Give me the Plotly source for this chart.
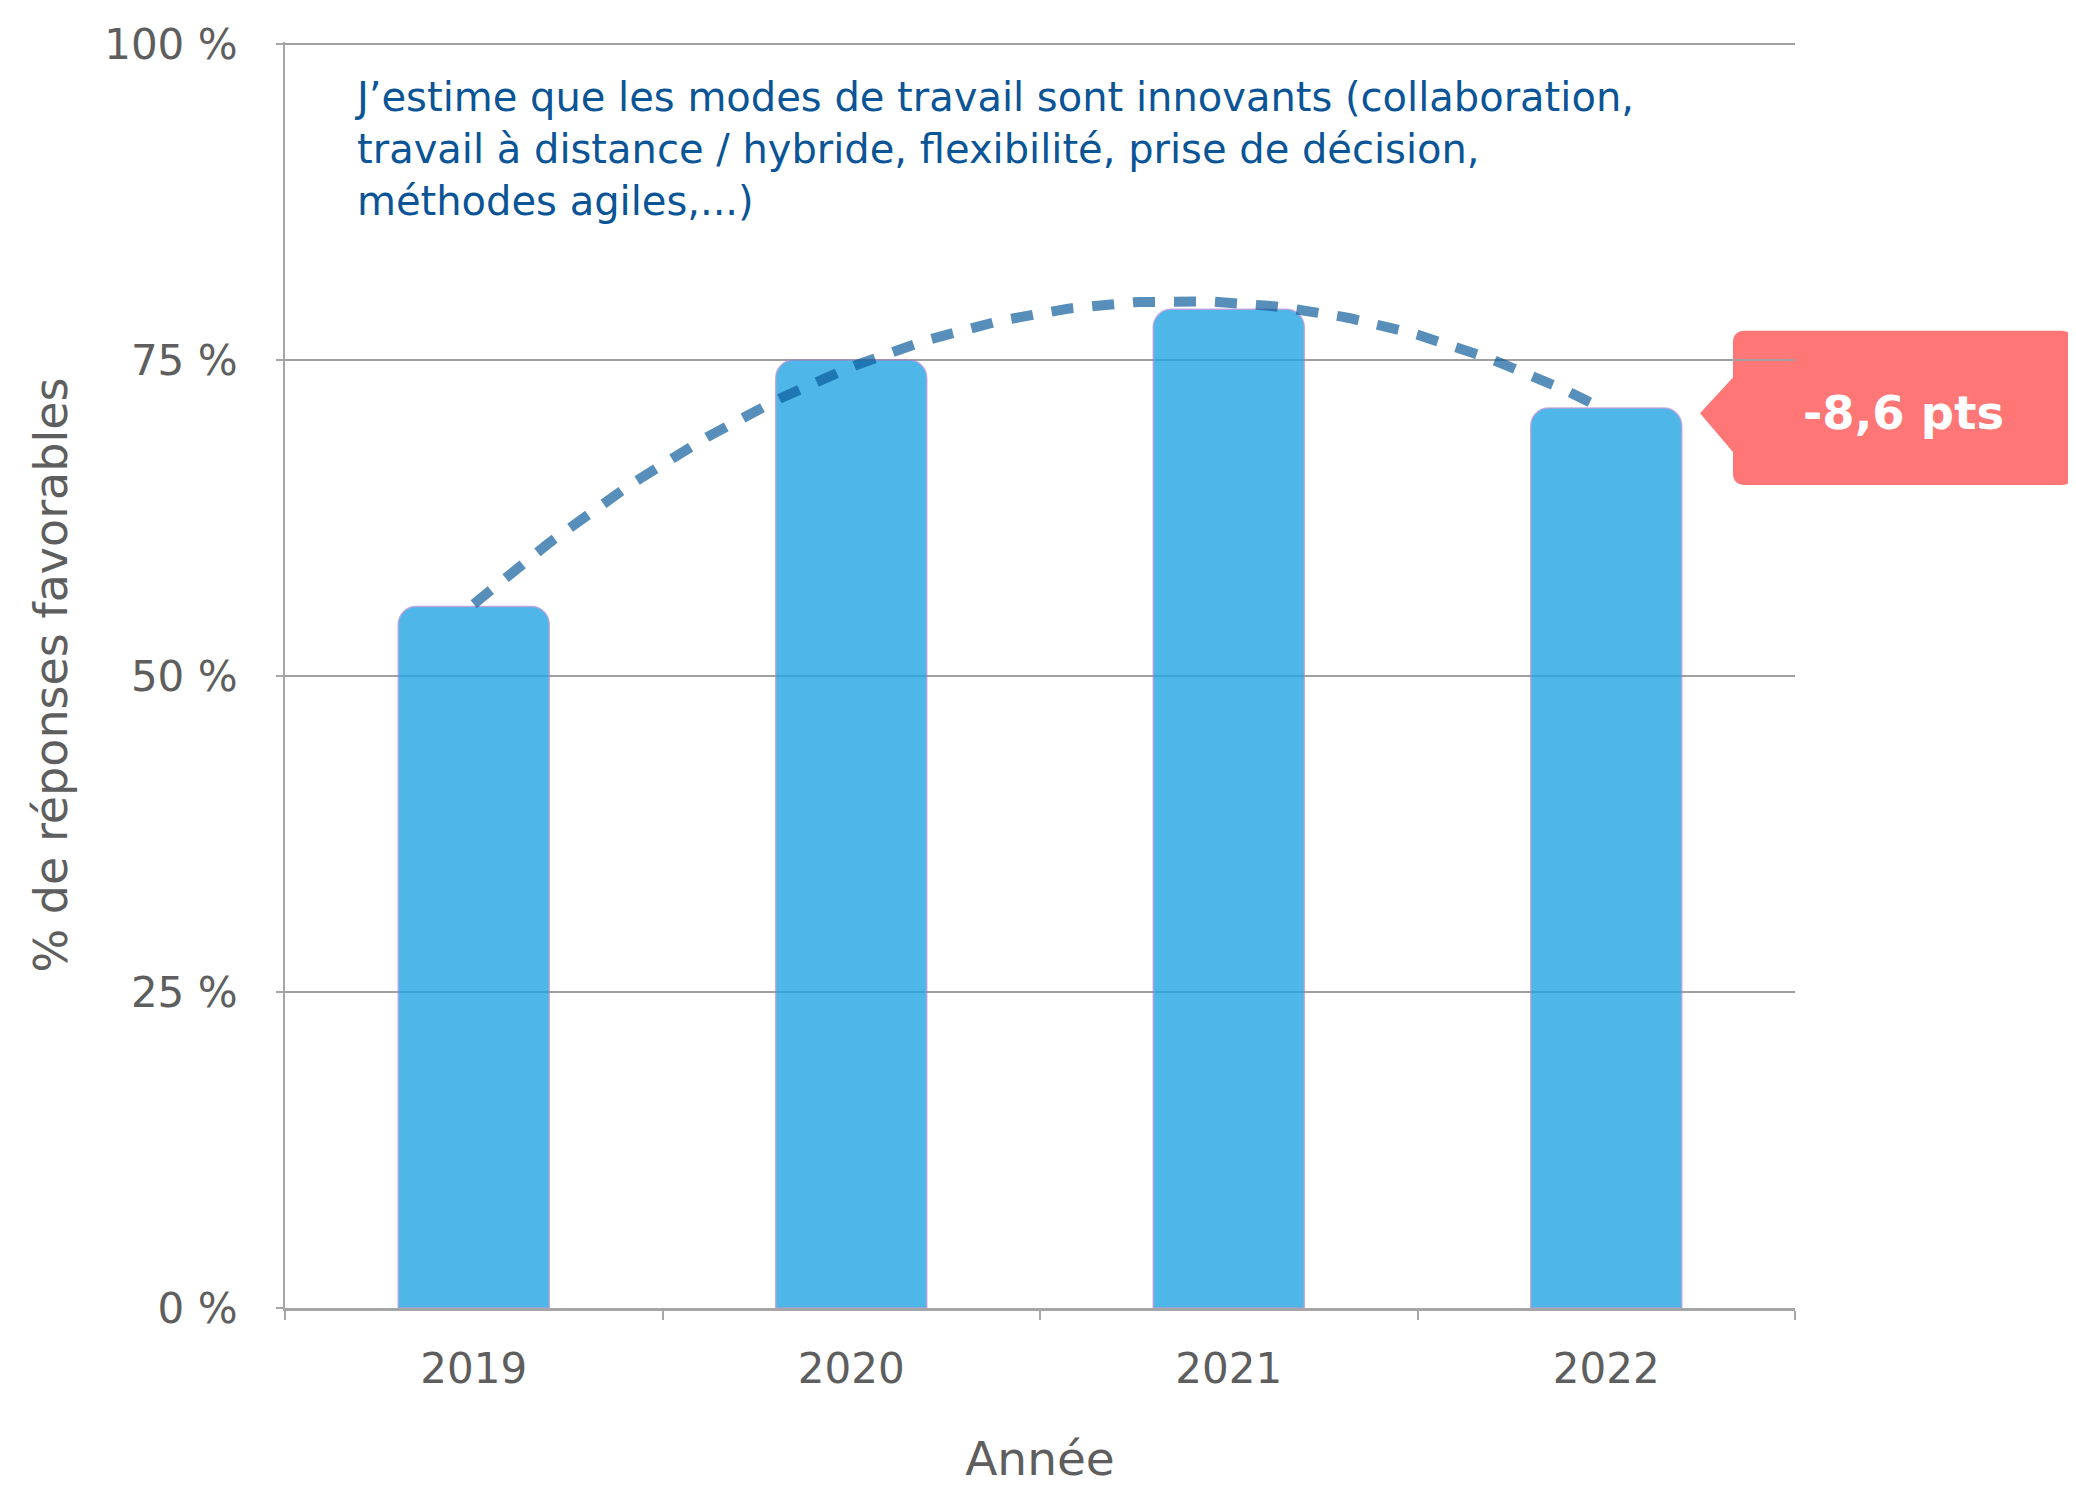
import numpy as np
import plotly.graph_objects as go

# ---- data ----
years = ["2019", "2020", "2021", "2022"]
favorable = [55.5, 75.0, 79.0, 71.2]
y_ticks = [0, 25, 50, 75, 100]
y_tick_labels = ["0 %", "25 %", "50 %", "75 %", "100 %"]
title_text = ("J’estime que les modes de travail sont innovants (collaboration,<br>"
              "travail à distance / hybride, flexibilité, prise de décision,<br>"
              "méthodes agiles,...)")
callout_text = "-8,6 pts"

# ---- layout geometry (window pixels; page has an 8px body margin) ----
OFF = 8
W, H = 2076 - OFF, 1498 - OFF
PLOT_L, PLOT_R, PLOT_T, PLOT_B = 285, 1795, 36, 1308   # window coords
YMAX = 100.15
L = PLOT_L - OFF
T = PLOT_T - OFF
R = W - (PLOT_R - OFF)
B = H - (PLOT_B - OFF)
PW = PLOT_R - PLOT_L
PH = PLOT_B - PLOT_T


def px(x):
    return (x - PLOT_L) / PW


def py(y):
    return (PLOT_B - y) / PH


# polynomial (order 2) trendline fitted to the bar values
idx = np.arange(len(years))
coef = np.polyfit(idx, favorable, 2)
tx = np.linspace(0, len(years) - 1, 200)
ty = np.polyval(coef, tx)

fig = go.Figure()
fig.add_trace(go.Bar(
    x=years, y=favorable, width=0.4,
    marker=dict(color="rgb(35,166,226)", opacity=0.8, cornerradius=18,
                line=dict(color="rgba(170,130,215,0.8)", width=1.5)),
    hoverinfo="skip", showlegend=False,
))
fig.add_trace(go.Scatter(
    x=tx, y=ty, xaxis="x2", mode="lines",
    line=dict(color="rgba(8,88,153,0.68)", width=10, dash="22px,19px"),
    hoverinfo="skip", showlegend=False,
))

# red callout box with arrow (window pixel geometry -> paper coords)
x0, x1, y0, y1, r = 1733, 2073, 326, 481, 12
tipx, tipy, a0, a1 = 1700, 409, 373, 448
path = (
    f"M {px(x0 + r)},{py(y0)} L {px(x1 - r)},{py(y0)} "
    f"Q {px(x1)},{py(y0)} {px(x1)},{py(y0 + r)} "
    f"L {px(x1)},{py(y1 - r)} Q {px(x1)},{py(y1)} {px(x1 - r)},{py(y1)} "
    f"L {px(x0 + r)},{py(y1)} Q {px(x0)},{py(y1)} {px(x0)},{py(y1 - r)} "
    f"L {px(x0)},{py(a1)} L {px(tipx)},{py(tipy)} L {px(x0)},{py(a0)} "
    f"L {px(x0)},{py(y0 + r)} Q {px(x0)},{py(y0)} {px(x0 + r)},{py(y0)} Z"
)
fig.add_shape(type="path", path=path, xref="paper", yref="paper",
              fillcolor="#FF7676", line=dict(width=0), layer="below")

FONT = "DejaVu Sans"
fig.add_annotation(text=callout_text, xref="paper", yref="paper",
                   x=px((x0 + x1) / 2 + 1), y=py((y0 + y1) / 2 + 5),
                   xanchor="center", yanchor="middle", showarrow=False,
                   font=dict(family=FONT, size=46.5, color="white", weight="bold"))

fig.add_annotation(text=title_text, xref="paper", yref="paper",
                   x=px(352), y=py(144), xanchor="left", yanchor="middle",
                   align="left", showarrow=False,
                   font=dict(family=FONT, size=40, color="#0B5596"))

gray_txt = "#5E5E5E"
fig.update_layout(
    width=W, height=H,
    margin=dict(l=L, r=R, t=T, b=B),
    paper_bgcolor="white", plot_bgcolor="white",
    font=dict(family=FONT, color=gray_txt),
    xaxis=dict(
        type="category", range=[-0.5, 3.5],
        tickson="boundaries", ticks="outside", ticklen=9, tickwidth=1.5,
        tickcolor="#A6A6A6", ticklabelstandoff=22,
        showline=True, linecolor="#A6A6A6", linewidth=3,
        showgrid=False,
        tickfont=dict(size=42, color=gray_txt),
        title=dict(text="Année", font=dict(size=47, color=gray_txt), standoff=50),
    ),
    xaxis2=dict(overlaying="x", range=[-0.5, 3.5], visible=False),
    yaxis=dict(
        range=[0, YMAX], tickvals=y_ticks, ticktext=y_tick_labels,
        ticks="outside", ticklen=7, tickwidth=1.5, tickcolor="#A6A6A6",
        ticklabelstandoff=30,
        showline=True, linecolor="#A6A6A6", linewidth=2,
        showgrid=True, gridcolor="#A0A0A0", gridwidth=2,
        zeroline=False,
        tickfont=dict(size=42, color=gray_txt),
        title=dict(text="% de réponses favorables", font=dict(size=46, color=gray_txt),
                   standoff=22),
    ),
)

fig.write_html("out.html")
